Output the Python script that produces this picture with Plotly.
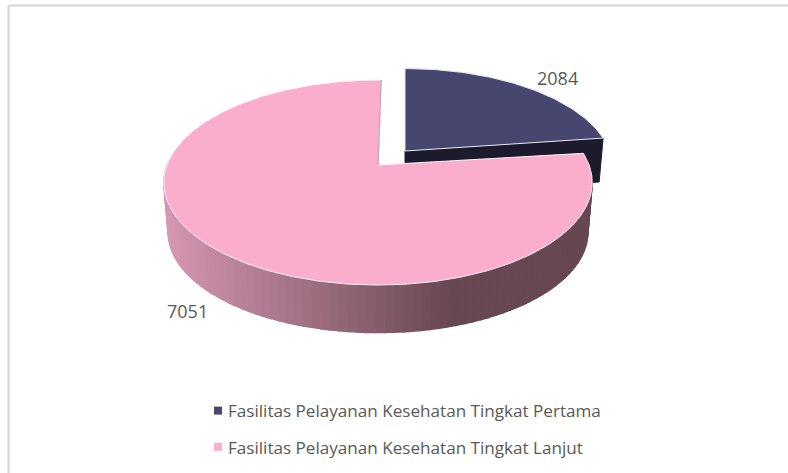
import numpy as np
import plotly.graph_objects as go

CATEGORIES = ["Fasilitas Pelayanan Kesehatan Tingkat Pertama",
              "Fasilitas Pelayanan Kesehatan Tingkat Lanjut"]
VALUES = [2084, 7051]
TOP_COLORS = ["#47466f", "#faadcc"]
SIDE_DARK = "#1c1b2d"
FONT = "Open Sans"
TEXT = "#595959"

W, H = 788, 473
R, K, P = 211.0, 99.5, 0.171
DEPTH, SHRINK = 50.0, 0.98
EXPLODED_SCALE = 0.97


def project(theta, cx, cy, depth=0.0):
    """Clockwise angle from north on the pie's plane -> picture position, with perspective."""
    u, v = np.sin(theta), np.cos(theta)
    w = 1 + P * v
    s = SHRINK if depth else 1.0
    return cx + s * R * u / w, cy + depth - s * K * v / w


def poly(x, y, color, line=None, width=1.0):
    return go.Scatter(x=list(x), y=list(y), mode="lines", fill="toself", fillcolor=color,
                      line=dict(color=line or color, width=width),
                      hoverinfo="skip", showlegend=False)


def lerp_side(x):
    # side shading: flat dark on the right, lightening to the left
    t = np.clip((455 - x) / (455 - 165), 0, 1)
    a, b = np.array([103, 71, 81]), np.array([214, 151, 178])
    c = a + (b - a) * t
    return "rgb(%d,%d,%d)" % tuple(c)


fractions = np.array(VALUES) / sum(VALUES)
sweep = fractions * 2 * np.pi

fig = go.Figure()

# --- exploded first slice
cx1, cy1 = 405.0, 151.0
side1 = DEPTH - 6
t1 = np.linspace(0, sweep[0], 80)
xe, ye = project(sweep[0], cx1, cy1)
xb, yb = project(sweep[0], cx1, cy1, side1)
xe = cx1 + (xe - cx1) * EXPLODED_SCALE
ye = cy1 + (ye - cy1) * EXPLODED_SCALE
xb = cx1 + (xb - cx1) * EXPLODED_SCALE
fig.add_trace(poly([cx1, xe, xb, cx1, cx1], [cy1, ye, yb, cy1 + side1, cy1], SIDE_DARK))
xt, yt = project(t1, cx1, cy1)
xt = cx1 + (xt - cx1) * EXPLODED_SCALE
yt = cy1 + (yt - cy1) * EXPLODED_SCALE
fig.add_trace(poly(np.r_[cx1, xt, cx1], np.r_[cy1, yt, cy1], TOP_COLORS[0], line="#e6e6ec", width=1))

# --- main slice
cx2, cy2 = 378.0, 165.0
start = sweep[0] + np.radians(1)
end = start + sweep[1]
edges = np.linspace(start, min(end, 2 * np.pi * 0.755), 90)
for a, b in zip(edges[:-1], edges[1:]):
    ts = np.linspace(a, b, 3)
    xa, ya = project(ts, cx2, cy2)
    xd, yd = project(ts[::-1], cx2, cy2, DEPTH)
    xs = np.r_[xa, xd, xa[0]]
    ys = np.r_[ya, yd, ya[0]]
    fig.add_trace(poly(xs, ys, lerp_side(xa.mean()), width=1.4))

t2 = np.linspace(start, end, 300)
xt, yt = project(t2, cx2, cy2)
fig.add_trace(poly(np.r_[cx2, xt, cx2], np.r_[cy2, yt, cy2], TOP_COLORS[1], line="#fdf3f7", width=1))
xs_, ys_ = project(end, cx2, cy2)
fig.add_trace(go.Scatter(x=[cx2, xs_], y=[cy2, ys_], mode="lines", line=dict(color="#c7a9b8", width=1.5),
                         hoverinfo="skip", showlegend=False))

# --- legend entries
for name, color in zip(CATEGORIES, TOP_COLORS):
    fig.add_trace(go.Scatter(x=[None], y=[None], mode="markers", name=name, legendgroup=name,
                             marker=dict(symbol="square", size=8, color=color)))

label_pos = [(557, 78), (187, 311)]
annos = [dict(x=px, y=py, text=str(v), showarrow=False, xref="x", yref="y",
              font=dict(family=FONT, size=18, color=TEXT))
         for v, (px, py) in zip(VALUES, label_pos)]

fig.update_layout(
    width=W, height=H, margin=dict(l=0, r=0, t=0, b=0),
    paper_bgcolor="white", plot_bgcolor="white",
    xaxis=dict(range=[0, W], visible=False, fixedrange=True),
    yaxis=dict(range=[H, 0], visible=False, fixedrange=True),
    annotations=annos,
    shapes=[dict(type="line", xref="x", yref="y", x0=8.5, x1=8.5, y0=5.5, y1=H, line=dict(color="#d4d4d4", width=2)),
            dict(type="line", xref="x", yref="y", x0=8.5, x1=W, y0=5.5, y1=5.5, line=dict(color="#d4d4d4", width=2))],
    legend=dict(x=188 / W, xanchor="left", y=1 - 393 / H, yanchor="top", bgcolor="rgba(0,0,0,0)",
                font=dict(family=FONT, size=17.1, color=TEXT), tracegroupgap=11,
                itemclick=False, itemdoubleclick=False),
    showlegend=True, hovermode=False,
)
POST = ("document.body.style.margin='0';document.body.style.overflow='hidden';"
        "document.querySelectorAll('.legendsymbols').forEach(function(g){g.setAttribute('transform','translate(10,0)');});")
fig.write_html("out.html", config={"displayModeBar": False}, post_script=POST)
